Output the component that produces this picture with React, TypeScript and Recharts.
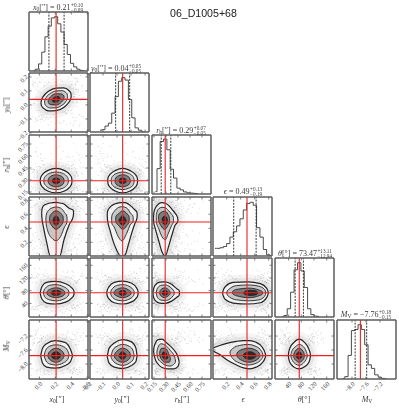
import React from 'react';
import { ComposedChart, Area, Line, Scatter, XAxis, YAxis, ReferenceLine } from 'recharts';

type Row = [number, number, number];

// axis setup, order is x0, y0, rh, eps, theta, Mv
const domains = [[-0.13, 0.61], [-0.193, 0.228], [0.125, 0.8625], [0.004, 0.847], [-3, 183], [-8.43, -6.74]];
const tickSets = [
  [0, 0.2, 0.4, 0.6],
  [-0.2, -0.1, 0, 0.1, 0.2],
  [0.15, 0.3, 0.45, 0.6, 0.75],
  [0.2, 0.4, 0.6, 0.8],
  [40, 80, 120, 160],
  [-8, -7.6, -7.2],
];
const tickDecimals = [1, 1, 2, 1, 0, 1];
const medians = [0.21, 0.04, 0.29, 0.49, 73.47, -7.76];
const lowerBounds = [0.12, -0.01, 0.24, 0.3, 60.53, -7.91];
const upperBounds = [0.31, 0.09, 0.36, 0.62, 86.58, -7.58];

// histograms: bin centre and height
const x0Bins = [-0.07, -0.03, 0.01, 0.05, 0.09, 0.13, 0.17, 0.21, 0.25, 0.29, 0.33, 0.37, 0.41, 0.45, 0.49, 0.53, 0.57];
const x0Hist = [1, 3, 12, 32, 58, 76, 90, 92, 80, 66, 45, 28, 13, 7, 3, 1, 0.5];
const y0Bins = [-0.121, -0.098, -0.074, -0.05, -0.026, -0.002, 0.021, 0.045, 0.069, 0.093, 0.117, 0.14, 0.164, 0.188];
const y0Hist = [3, 4, 10, 15, 32, 60, 86, 92, 88, 55, 24, 7, 3, 1];
const rhBins = [0.169, 0.206, 0.248, 0.29, 0.332, 0.373, 0.415, 0.457, 0.498, 0.54, 0.582, 0.624, 0.665, 0.7];
const rhHist = [4, 43, 89, 93, 75, 42, 27, 10, 7, 3.5, 2, 1.5, 1, 0.5];
const epsBins = [0.032, 0.08, 0.127, 0.175, 0.222, 0.27, 0.318, 0.365, 0.413, 0.46, 0.508, 0.556, 0.603, 0.65, 0.699, 0.746, 0.794, 0.84];
const epsHist = [13, 13, 14, 16, 21, 32, 41, 51, 63, 78, 89, 91, 86, 48, 32, 11, 2, 0.5];
const thetaBins = [21, 30, 41, 51.5, 62.7, 73.5, 84, 94.5, 105, 115, 126, 136];
const thetaHist = [1, 2.5, 14, 42, 80, 92, 78, 50, 14, 4, 1.5, 1];
const mvBins = [-8.255, -8.16, -8.065, -7.97, -7.874, -7.78, -7.684, -7.59, -7.49, -7.4, -7.3, -7.2, -7.11, -7.02];
const mvHist = [1, 4, 40, 82, 84, 92, 84, 58, 24, 18, 7, 3, 1, 0.5];
const histBins = [x0Bins, y0Bins, rhBins, epsBins, thetaBins, mvBins];
const histHeights = [x0Hist, y0Hist, rhHist, epsHist, thetaHist, mvHist];

// loose samples outside the contours
const x0Samples = [-0.08, 0.42, 0.03, 0.47, -0.02, 0.38, 0.51, 0.0, 0.44, -0.05, 0.12, 0.33, 0.49, 0.01, 0.41, -0.1, 0.25, 0.46, 0.06, 0.55, -0.03, 0.36, 0.18, 0.43, -0.06, 0.5, 0.02, 0.29, 0.4, -0.01, 0.15, 0.45, 0.04, 0.52, 0.09, 0.39, -0.04, 0.22, 0.48, 0.05, 0.35, -0.07, 0.42, 0.07, 0.31, 0.54, 0.0, 0.2, 0.44, 0.03, 0.37, -0.09, 0.27, 0.47, 0.08, 0.41, 0.14, 0.5, -0.02, 0.34, 0.01, 0.46, 0.1, 0.4, -0.05, 0.24, 0.43, 0.06, 0.53, 0.17, 0.38, -0.03, 0.3, 0.48, 0.02, 0.45, 0.11, 0.36, -0.08, 0.21];
const y0Samples = [0.15, -0.09, 0.18, 0.02, -0.11, 0.13, -0.07, 0.17, 0.06, -0.12, 0.16, -0.05, 0.11, -0.1, 0.2, 0.0, -0.13, 0.14, 0.08, -0.08, 0.19, -0.04, 0.12, -0.14, 0.16, 0.04, -0.1, 0.17, -0.06, 0.1, -0.12, 0.15, -0.02, 0.21, -0.09, 0.13, 0.05, -0.11, 0.18, -0.07, 0.12, 0.01, -0.15, 0.16, -0.05, 0.14, -0.08, 0.09, 0.19, -0.1, 0.03, 0.15, -0.13, 0.11, -0.03, 0.17, -0.09, 0.07, 0.13, -0.06, 0.2, -0.11, 0.1, -0.04, 0.16, -0.12, 0.06, 0.14, -0.08, 0.18, -0.01, -0.1, 0.12, 0.02, -0.07, 0.15, -0.14, 0.09, 0.17, -0.05];
const rhSamples = [0.44, 0.17, 0.5, 0.38, 0.19, 0.58, 0.47, 0.16, 0.41, 0.66, 0.2, 0.46, 0.36, 0.18, 0.53, 0.43, 0.72, 0.21, 0.49, 0.16, 0.39, 0.6, 0.45, 0.18, 0.42, 0.55, 0.2, 0.37, 0.48, 0.17, 0.63, 0.44, 0.22, 0.52, 0.4, 0.19, 0.46, 0.7, 0.35, 0.18, 0.5, 0.43, 0.21, 0.57, 0.38, 0.16, 0.47, 0.41, 0.2, 0.54, 0.45, 0.19, 0.36, 0.65, 0.42, 0.17, 0.49, 0.23, 0.4, 0.59, 0.18, 0.44, 0.37, 0.2, 0.51, 0.46, 0.76, 0.16, 0.39, 0.56, 0.22, 0.43, 0.48, 0.19, 0.62, 0.35, 0.17, 0.45, 0.41, 0.21];
const epsSamples = [0.1, 0.72, 0.2, 0.79, 0.05, 0.68, 0.3, 0.82, 0.14, 0.75, 0.02, 0.61, 0.25, 0.78, 0.08, 0.7, 0.33, 0.8, 0.17, 0.66, 0.04, 0.74, 0.28, 0.83, 0.12, 0.64, 0.22, 0.77, 0.07, 0.71, 0.36, 0.8, 0.15, 0.69, 0.03, 0.76, 0.26, 0.62, 0.1, 0.81, 0.19, 0.73, 0.31, 0.67, 0.06, 0.78, 0.24, 0.7, 0.13, 0.84, 0.39, 0.65, 0.09, 0.75, 0.21, 0.79, 0.02, 0.6, 0.29, 0.72, 0.16, 0.77, 0.05, 0.68, 0.34, 0.82, 0.11, 0.74, 0.23, 0.63, 0.08, 0.8, 0.27, 0.71, 0.18, 0.76, 0.04, 0.66, 0.32, 0.78];
const thetaSamples = [120, 25, 110, 34, 135, 18, 101, 40, 124, 29, 112, 14, 106, 37, 142, 22, 116, 31, 128, 43, 104, 20, 119, 36, 150, 27, 108, 12, 122, 33, 113, 24, 132, 39, 103, 17, 126, 30, 109, 44, 138, 21, 117, 35, 105, 26, 130, 15, 111, 38, 125, 28, 102, 19, 145, 32, 114, 41, 121, 23, 107, 10, 134, 34, 118, 26, 100, 42, 127, 16, 110, 30, 140, 37, 115, 22, 123, 45, 106, 29];
const mvSamples = [-7.3, -8.2, -7.25, -8.15, -7.4, -8.25, -7.2, -7.35, -8.18, -7.15, -8.3, -7.28, -7.45, -8.22, -7.1, -8.12, -7.38, -7.22, -8.28, -7.32, -8.16, -7.05, -7.42, -8.24, -7.27, -8.1, -7.18, -8.2, -7.36, -7.0, -8.14, -7.3, -8.32, -7.24, -7.44, -8.19, -7.12, -8.26, -7.34, -7.2, -8.13, -7.4, -8.22, -6.95, -7.29, -8.17, -7.37, -8.28, -7.16, -7.26, -8.11, -7.43, -8.21, -7.08, -7.33, -8.25, -7.21, -8.15, -7.39, -7.14, -8.3, -7.28, -8.18, -7.46, -7.03, -8.12, -7.31, -8.23, -7.19, -7.41, -8.16, -7.25, -8.27, -7.11, -7.35, -8.2, -7.23, -8.14, -7.47, -7.17];
const samples = [x0Samples, y0Samples, rhSamples, epsSamples, thetaSamples, mvSamples];
const samplePairings = [0, 17];

// contours, outer to inner: [x, lower y, upper y]
const contoursY0X0: Row[][] = [
  [[0.02, 0.015, 0.015], [0.026, -0.005, 0.035], [0.05, -0.023, 0.061], [0.115, -0.042, 0.098], [0.21, -0.04, 0.12], [0.305, -0.018, 0.122], [0.37, 0.019, 0.103], [0.394, 0.045, 0.085], [0.4, 0.065, 0.065]],
  [[0.065, 0.02, 0.02], [0.07, 0.005, 0.035], [0.087, -0.009, 0.055], [0.138, -0.022, 0.082], [0.21, -0.02, 0.1], [0.283, -0.002, 0.102], [0.333, 0.025, 0.089], [0.35, 0.045, 0.075], [0.355, 0.06, 0.06]],
  [[0.11, 0.026, 0.026], [0.113, 0.016, 0.036], [0.14, 0.002, 0.058], [0.21, 0, 0.08], [0.28, 0.022, 0.078], [0.307, 0.044, 0.064], [0.31, 0.054, 0.054]],
  [[0.16, 0.033, 0.033], [0.175, 0.021, 0.049], [0.21, 0.02, 0.06], [0.245, 0.031, 0.059], [0.26, 0.047, 0.047]],
];
const contoursRhX0: Row[][] = [
  [[0.01, 0.29, 0.29], [0.016, 0.25, 0.33], [0.04, 0.21, 0.37], [0.11, 0.16, 0.42], [0.21, 0.14, 0.445], [0.31, 0.16, 0.42], [0.38, 0.21, 0.37], [0.404, 0.25, 0.33], [0.41, 0.29, 0.29]],
  [[0.055, 0.29, 0.29], [0.06, 0.26, 0.32], [0.08, 0.23, 0.35], [0.13, 0.195, 0.385], [0.21, 0.18, 0.4], [0.29, 0.195, 0.385], [0.34, 0.23, 0.35], [0.36, 0.26, 0.32], [0.365, 0.29, 0.29]],
  [[0.11, 0.29, 0.29], [0.113, 0.27, 0.31], [0.14, 0.235, 0.345], [0.21, 0.215, 0.365], [0.28, 0.235, 0.345], [0.307, 0.27, 0.31], [0.31, 0.29, 0.29]],
  [[0.16, 0.29, 0.29], [0.175, 0.265, 0.315], [0.21, 0.255, 0.325], [0.245, 0.265, 0.315], [0.26, 0.29, 0.29]],
];
const contoursRhY0: Row[][] = [
  [[-0.067, 0.29, 0.29], [-0.064, 0.25, 0.33], [-0.05, 0.21, 0.37], [-0.01, 0.16, 0.42], [0.04, 0.14, 0.445], [0.09, 0.16, 0.42], [0.13, 0.21, 0.37], [0.144, 0.25, 0.33], [0.147, 0.29, 0.29]],
  [[-0.042, 0.29, 0.29], [-0.04, 0.26, 0.32], [-0.03, 0.23, 0.35], [0, 0.195, 0.385], [0.04, 0.18, 0.4], [0.08, 0.195, 0.385], [0.11, 0.23, 0.35], [0.12, 0.26, 0.32], [0.122, 0.29, 0.29]],
  [[-0.015, 0.29, 0.29], [-0.013, 0.27, 0.31], [0.002, 0.235, 0.345], [0.04, 0.215, 0.365], [0.078, 0.235, 0.345], [0.093, 0.27, 0.31], [0.095, 0.29, 0.29]],
  [[0.013, 0.29, 0.29], [0.021, 0.265, 0.315], [0.04, 0.255, 0.325], [0.059, 0.265, 0.315], [0.067, 0.29, 0.29]],
];
const contoursEpsX0: Row[][] = [
  [[0.029, 0.614, 0.614], [0.032, 0.55, 0.67], [0.05, 0.423, 0.719], [0.094, 0.185, 0.747], [0.136, 0.004, 0.761], [0.21, 0.002, 0.771], [0.256, 0.004, 0.761], [0.308, 0.233, 0.747], [0.373, 0.447, 0.685], [0.425, 0.57, 0.66], [0.429, 0.62, 0.62]],
  [[0.081, 0.53, 0.53], [0.085, 0.47, 0.58], [0.102, 0.376, 0.637], [0.158, 0.257, 0.69], [0.21, 0.223, 0.704], [0.265, 0.28, 0.69], [0.317, 0.423, 0.623], [0.344, 0.48, 0.575], [0.348, 0.53, 0.53]],
  [[0.128, 0.53, 0.53], [0.131, 0.49, 0.57], [0.155, 0.44, 0.61], [0.21, 0.385, 0.65], [0.27, 0.44, 0.61], [0.297, 0.49, 0.57], [0.3, 0.53, 0.53]],
  [[0.17, 0.51, 0.51], [0.185, 0.465, 0.555], [0.21, 0.447, 0.578], [0.235, 0.465, 0.555], [0.25, 0.51, 0.51]],
];
const contoursEpsY0: Row[][] = [
  [[-0.07, 0.59, 0.59], [-0.068, 0.52, 0.64], [-0.051, 0.376, 0.7], [-0.027, 0.209, 0.738], [-0.003, 0.09, 0.757], [0.026, 0.004, 0.766], [0.04, 0.004, 0.766], [0.057, 0.019, 0.766], [0.08, 0.161, 0.747], [0.104, 0.328, 0.709], [0.128, 0.471, 0.661], [0.142, 0.54, 0.63], [0.144, 0.59, 0.59]],
  [[-0.039, 0.53, 0.53], [-0.037, 0.47, 0.58], [-0.022, 0.423, 0.637], [0.009, 0.28, 0.695], [0.035, 0.219, 0.709], [0.069, 0.328, 0.69], [0.097, 0.461, 0.614], [0.114, 0.49, 0.57], [0.116, 0.53, 0.53]],
  [[-0.01, 0.53, 0.53], [-0.008, 0.49, 0.57], [0.012, 0.44, 0.61], [0.04, 0.385, 0.65], [0.07, 0.44, 0.61], [0.085, 0.49, 0.57], [0.087, 0.53, 0.53]],
  [[0.012, 0.51, 0.51], [0.024, 0.465, 0.555], [0.04, 0.447, 0.578], [0.055, 0.465, 0.555], [0.066, 0.51, 0.51]],
];
const contoursEpsRh: Row[][] = [
  [[0.144, 0.542, 0.542], [0.147, 0.48, 0.61], [0.165, 0.4, 0.685], [0.206, 0.233, 0.747], [0.249, 0.066, 0.766], [0.29, 0.004, 0.757], [0.332, 0.138, 0.728], [0.374, 0.304, 0.671], [0.415, 0.447, 0.614], [0.446, 0.49, 0.55], [0.449, 0.519, 0.519]],
  [[0.178, 0.55, 0.55], [0.18, 0.49, 0.6], [0.21, 0.39, 0.68], [0.25, 0.28, 0.7], [0.29, 0.235, 0.695], [0.33, 0.33, 0.655], [0.37, 0.44, 0.6], [0.392, 0.49, 0.56], [0.394, 0.53, 0.53]],
  [[0.206, 0.55, 0.55], [0.209, 0.51, 0.59], [0.235, 0.44, 0.625], [0.285, 0.385, 0.645], [0.325, 0.44, 0.6], [0.343, 0.48, 0.54], [0.345, 0.51, 0.51]],
  [[0.25, 0.53, 0.53], [0.265, 0.47, 0.565], [0.29, 0.447, 0.575], [0.31, 0.47, 0.55], [0.32, 0.51, 0.51]],
];
const contoursThetaX0: Row[][] = [
  [[0.01, 72, 72], [0.017, 64, 81], [0.035, 52, 94], [0.09, 41, 106], [0.2, 38, 109], [0.33, 44, 102], [0.41, 58, 88], [0.43, 65, 81], [0.437, 73, 73]],
  [[0.05, 73, 73], [0.056, 67, 79], [0.075, 58, 88], [0.13, 51, 97], [0.21, 48, 99], [0.3, 53, 93], [0.355, 62, 84], [0.367, 67, 79], [0.373, 73, 73]],
  [[0.094, 73, 73], [0.098, 69, 77], [0.13, 63, 84], [0.21, 58, 89], [0.29, 63, 83], [0.316, 69, 77], [0.32, 73, 73]],
  [[0.145, 73, 73], [0.165, 67, 79], [0.21, 65, 81], [0.255, 68, 79], [0.274, 73, 73]],
];
const contoursThetaY0: Row[][] = [
  [[-0.074, 72, 72], [-0.07, 64, 81], [-0.058, 54, 92], [-0.02, 42, 106], [0.04, 38, 110], [0.1, 44, 104], [0.14, 58, 88], [0.148, 65, 81], [0.151, 73, 73]],
  [[-0.046, 73, 73], [-0.043, 67, 79], [-0.03, 58, 88], [0.005, 50, 97], [0.04, 48, 99], [0.085, 53, 94], [0.113, 62, 84], [0.12, 67, 79], [0.123, 73, 73]],
  [[-0.022, 73, 73], [-0.02, 69, 77], [0, 63, 84], [0.04, 58, 89], [0.08, 63, 83], [0.098, 69, 77], [0.1, 73, 73]],
  [[0.012, 73, 73], [0.022, 67, 79], [0.04, 65, 81], [0.058, 68, 79], [0.07, 73, 73]],
];
const contoursThetaRh: Row[][] = [
  [[0.136, 72, 72], [0.141, 64, 81], [0.16, 50, 96], [0.22, 41, 107], [0.29, 40, 108], [0.37, 47, 100], [0.44, 60, 85], [0.463, 65, 81], [0.469, 73, 73]],
  [[0.178, 73, 73], [0.182, 67, 79], [0.2, 56, 90], [0.24, 50, 97], [0.29, 49, 98], [0.35, 54, 92], [0.39, 64, 82], [0.399, 67, 79], [0.403, 73, 73]],
  [[0.22, 73, 73], [0.223, 69, 77], [0.245, 62, 85], [0.285, 58, 89], [0.33, 64, 83], [0.349, 69, 77], [0.352, 73, 73]],
  [[0.25, 73, 73], [0.265, 67, 79], [0.285, 65, 81], [0.31, 67, 79], [0.324, 73, 73]],
];
const contoursThetaEps: Row[][] = [
  [[0.14, 72, 72], [0.15, 64, 81], [0.18, 52, 93], [0.29, 41, 106], [0.5, 38, 108], [0.68, 42, 102], [0.77, 58, 88], [0.785, 65, 81], [0.795, 73, 73]],
  [[0.2, 73, 73], [0.208, 67, 79], [0.24, 60, 86], [0.34, 51, 96], [0.52, 48, 98], [0.66, 51, 94], [0.74, 62, 84], [0.752, 67, 79], [0.76, 73, 73]],
  [[0.28, 74, 74], [0.286, 70, 78], [0.34, 64, 84], [0.52, 58, 88], [0.66, 64, 82], [0.708, 69, 77], [0.714, 73, 73]],
  [[0.438, 73, 73], [0.47, 67, 79], [0.54, 65, 81], [0.62, 67, 79], [0.65, 73, 73]],
];
const contoursMvX0: Row[][] = [
  [[0.016, -7.76, -7.76], [0.022, -7.82, -7.7], [0.04, -7.98, -7.55], [0.09, -8.09, -7.42], [0.2, -8.12, -7.33], [0.32, -8.05, -7.38], [0.39, -7.93, -7.58], [0.41, -7.81, -7.71], [0.416, -7.76, -7.76]],
  [[0.06, -7.76, -7.76], [0.065, -7.8, -7.71], [0.08, -7.9, -7.6], [0.13, -8, -7.49], [0.21, -8.03, -7.45], [0.3, -7.97, -7.5], [0.355, -7.87, -7.62], [0.368, -7.79, -7.7], [0.373, -7.75, -7.75]],
  [[0.105, -7.76, -7.76], [0.109, -7.79, -7.73], [0.14, -7.89, -7.62], [0.21, -7.95, -7.55], [0.28, -7.88, -7.62], [0.308, -7.78, -7.72], [0.312, -7.75, -7.75]],
  [[0.15, -7.76, -7.76], [0.165, -7.83, -7.69], [0.21, -7.865, -7.65], [0.255, -7.82, -7.7], [0.27, -7.76, -7.76]],
];
const contoursMvY0: Row[][] = [
  [[-0.07, -7.78, -7.78], [-0.067, -7.84, -7.72], [-0.058, -7.97, -7.56], [-0.02, -8.09, -7.4], [0.04, -8.13, -7.3], [0.1, -8.05, -7.36], [0.135, -7.93, -7.55], [0.141, -7.81, -7.71], [0.144, -7.76, -7.76]],
  [[-0.044, -7.78, -7.78], [-0.041, -7.82, -7.74], [-0.03, -7.9, -7.6], [0, -8, -7.49], [0.04, -8.04, -7.44], [0.09, -7.97, -7.5], [0.115, -7.87, -7.62], [0.12, -7.8, -7.72], [0.123, -7.76, -7.76]],
  [[-0.02, -7.77, -7.77], [-0.018, -7.8, -7.74], [0, -7.89, -7.63], [0.04, -7.95, -7.55], [0.08, -7.88, -7.62], [0.095, -7.79, -7.73], [0.097, -7.76, -7.76]],
  [[0.012, -7.76, -7.76], [0.022, -7.83, -7.69], [0.04, -7.865, -7.65], [0.058, -7.82, -7.7], [0.069, -7.76, -7.76]],
];
const contoursMvRh: Row[][] = [
  [[0.144, -7.62, -7.62], [0.148, -7.69, -7.55], [0.165, -7.86, -7.42], [0.2, -8, -7.3], [0.25, -8.1, -7.29], [0.32, -8.14, -7.42], [0.4, -8.14, -7.6], [0.45, -8.07, -7.8], [0.461, -8, -7.9], [0.465, -7.95, -7.95]],
  [[0.186, -7.68, -7.68], [0.189, -7.74, -7.62], [0.2, -7.85, -7.52], [0.24, -7.95, -7.42], [0.29, -8.03, -7.46], [0.35, -8.06, -7.6], [0.41, -7.98, -7.82], [0.417, -7.95, -7.88], [0.42, -7.92, -7.92]],
  [[0.22, -7.7, -7.7], [0.223, -7.75, -7.65], [0.245, -7.87, -7.55], [0.29, -7.95, -7.55], [0.34, -7.95, -7.74], [0.352, -7.89, -7.82], [0.355, -7.86, -7.86]],
  [[0.25, -7.74, -7.74], [0.265, -7.83, -7.66], [0.29, -7.86, -7.66], [0.315, -7.85, -7.76], [0.325, -7.82, -7.82]],
];
const contoursMvEps: Row[][] = [
  [[0.004, -7.63, -7.54], [0.1, -7.73, -7.47], [0.2, -7.88, -7.41], [0.34, -8.03, -7.35], [0.44, -8.11, -7.33], [0.53, -8.14, -7.33], [0.62, -8.09, -7.38], [0.7, -7.98, -7.5], [0.75, -7.82, -7.7], [0.757, -7.76, -7.76]],
  [[0.247, -7.68, -7.68], [0.253, -7.73, -7.63], [0.29, -7.85, -7.55], [0.38, -7.97, -7.47], [0.5, -8.03, -7.44], [0.62, -7.98, -7.5], [0.7, -7.85, -7.64], [0.715, -7.8, -7.72], [0.72, -7.76, -7.76]],
  [[0.342, -7.73, -7.73], [0.347, -7.77, -7.69], [0.4, -7.88, -7.6], [0.52, -7.95, -7.55], [0.63, -7.88, -7.62], [0.671, -7.79, -7.73], [0.676, -7.76, -7.76]],
  [[0.43, -7.76, -7.76], [0.46, -7.83, -7.69], [0.53, -7.865, -7.65], [0.6, -7.82, -7.7], [0.63, -7.76, -7.76]],
];
const contoursMvTheta: Row[][] = [
  [[39, -7.75, -7.75], [39.8, -7.82, -7.69], [44, -7.96, -7.54], [57, -8.09, -7.38], [73, -8.14, -7.29], [90, -8.08, -7.38], [104, -7.95, -7.58], [108, -7.82, -7.7], [109, -7.76, -7.76]],
  [[47, -7.76, -7.76], [47.7, -7.8, -7.71], [52, -7.9, -7.6], [62, -8, -7.5], [73, -8.04, -7.44], [86, -7.98, -7.5], [95, -7.87, -7.63], [98.2, -7.8, -7.72], [99, -7.76, -7.76]],
  [[55.6, -7.76, -7.76], [56.1, -7.79, -7.73], [61, -7.88, -7.63], [73, -7.95, -7.55], [85, -7.88, -7.63], [89.4, -7.79, -7.73], [90, -7.76, -7.76]],
  [[63, -7.76, -7.76], [67, -7.83, -7.69], [73, -7.865, -7.65], [79, -7.83, -7.69], [83, -7.76, -7.76]],
];
// indexed by row then column
const contourGrid: Row[][][][] = [
  [],
  [contoursY0X0],
  [contoursRhX0, contoursRhY0],
  [contoursEpsX0, contoursEpsY0, contoursEpsRh],
  [contoursThetaX0, contoursThetaY0, contoursThetaRh, contoursThetaEps],
  [contoursMvX0, contoursMvY0, contoursMvRh, contoursMvEps, contoursMvTheta],
];

const colLeft = [29, 90, 152, 213, 275, 337];
const rowTop = [12, 73, 135, 197, 258, 320];
const SIZE = 59;
const FRAME = '#5c5c5c';
const INK = '#3a3a3a';
const SERIF = '"Liberation Serif", serif';
const levelFills = ['#f3f3f3', '#c8c8c8', '#7c7c7c', '#2a2a2a'];

const formatTick = (value: number, decimals: number) => value.toFixed(decimals).replace('-', '\u2212');

const makeTick = (side: 'bottom' | 'top' | 'left' | 'right', decimals: number | null) => (p: any) => {
  const { x, y, payload } = p;
  const mark =
    side === 'bottom' ? { x1: x, x2: x, y1: y, y2: y - 2.5 }
    : side === 'top' ? { x1: x, x2: x, y1: y, y2: y + 2.5 }
    : side === 'left' ? { x1: x, x2: x + 2.5, y1: y, y2: y }
    : { x1: x, x2: x - 2.5, y1: y, y2: y };
  const lx = side === 'bottom' ? x + 2 : x - 2;
  const ly = side === 'bottom' ? y + 4 : y - 1;
  return (
    <g>
      <line {...mark} stroke={FRAME} strokeWidth={0.8} />
      {decimals !== null && (
        <text
          x={lx}
          y={ly}
          dy="0.3em"
          textAnchor="end"
          fontSize={6.4}
          fontFamily={SERIF}
          fill={INK}
          transform={`rotate(-45 ${lx} ${ly})`}
        >
          {formatTick(payload.value, decimals)}
        </text>
      )}
    </g>
  );
};

const Panel = ({ col, row }: { col: number; row: number }) => {
  const isHist = row === col;
  // one pixel of each side goes to the axis strip
  const left = col === 0 ? 29 : 1;
  const bottom = row === 5 ? 24 : 1;
  const xDomain = domains[col] as [number, number];
  const yDomain = (isHist ? [0, 100] : domains[row]) as [number, number];
  const yTicks = isHist ? [] : tickSets[row];
  const axisLine = { stroke: FRAME, strokeWidth: 1.5 };
  const levels = isHist ? [] : contourGrid[row][col];
  const points = isHist
    ? []
    : samplePairings.flatMap((k) => samples[col].map((v, i) => ({ x: v, y: samples[row][(i + k) % samples[row].length] })));
  const histData = histBins[col].map((v, i) => ({ x: v, y: histHeights[col][i] }));
  return (
    <div style={{ position: 'absolute', left: colLeft[col] - left, top: rowTop[row] - 1 }}>
      <ComposedChart
        width={SIZE + left + 1}
        height={SIZE + bottom + 1}
        margin={{ top: 0, right: 0, bottom: bottom - 1, left: left - 1 }}
      >
        <XAxis
          dataKey="x"
          type="number"
          domain={xDomain}
          allowDataOverflow
          ticks={tickSets[col]}
          interval={0}
          height={1}
          tickSize={0}
          tickMargin={0}
          tickLine={false}
          axisLine={axisLine}
          tick={makeTick('bottom', row === 5 ? tickDecimals[col] : null)}
        />
        <XAxis
          xAxisId="top"
          orientation="top"
          dataKey="x"
          type="number"
          domain={xDomain}
          allowDataOverflow
          ticks={tickSets[col]}
          interval={0}
          height={1}
          tickSize={0}
          tickMargin={0}
          tickLine={false}
          axisLine={axisLine}
          tick={makeTick('top', null)}
        />
        <YAxis
          dataKey="y"
          type="number"
          domain={yDomain}
          allowDataOverflow
          ticks={yTicks}
          interval={0}
          width={1}
          tickSize={0}
          tickMargin={0}
          tickLine={false}
          axisLine={axisLine}
          tick={makeTick('left', col === 0 && !isHist ? tickDecimals[row] : null)}
        />
        <YAxis
          yAxisId="right"
          orientation="right"
          dataKey="y"
          type="number"
          domain={yDomain}
          allowDataOverflow
          ticks={yTicks}
          interval={0}
          width={1}
          tickSize={0}
          tickMargin={0}
          tickLine={false}
          axisLine={axisLine}
          tick={makeTick('right', null)}
        />
        {!isHist && (
          <Scatter
            data={points}
            isAnimationActive={false}
            shape={(s: any) => <circle cx={s.cx} cy={s.cy} r={0.5} fill="#777" fillOpacity={0.35} />}
          />
        )}
        {levels.length > 0 && [15, 8].map((w, i) => (
          <Area
            key={`halo-${w}`}
            data={levels[0].map((r) => ({ x: r[0], y: [r[1], r[2]] }))}
            dataKey="y"
            type="monotone"
            stroke="#aaa"
            strokeOpacity={i === 0 ? 0.12 : 0.2}
            strokeWidth={w}
            fill="none"
            dot={false}
            activeDot={false}
            isAnimationActive={false}
          />
        ))}
        {levels.map((level, i) => (
          <Area
            key={i}
            data={level.map((r) => ({ x: r[0], y: [r[1], r[2]] }))}
            dataKey="y"
            type="monotone"
            stroke="#222"
            strokeWidth={i === 0 ? 1.2 : 0.9}
            fill={levelFills[i]}
            fillOpacity={1}
            dot={false}
            activeDot={false}
            isAnimationActive={false}
          />
        ))}
        {isHist && (
          <Line
            data={histData}
            dataKey="y"
            type="step"
            stroke="#4a4a4a"
            strokeWidth={1}
            dot={false}
            activeDot={false}
            isAnimationActive={false}
          />
        )}
        {isHist && <ReferenceLine x={lowerBounds[col]} stroke="#222" strokeWidth={0.9} strokeDasharray="2 1.2" />}
        {isHist && <ReferenceLine x={upperBounds[col]} stroke="#222" strokeWidth={0.9} strokeDasharray="2 1.2" />}
        <ReferenceLine x={medians[col]} stroke="#f02020" strokeWidth={1.1} />
        {!isHist && <ReferenceLine y={medians[row]} stroke="#f02020" strokeWidth={1.1} />}
      </ComposedChart>
    </div>
  );
};

const Sub = ({ children }: { children: React.ReactNode }) => (
  <span style={{ fontSize: '70%', position: 'relative', top: '0.25em' }}>{children}</span>
);

const Stack = ({ up, down }: { up: string; down: string }) => (
  <span style={{ display: 'inline-block', verticalAlign: 'middle', fontSize: 5.2, lineHeight: '5px', marginLeft: 0.5 }}>
    {up}
    <br />
    {down}
  </span>
);

const labelStyle: React.CSSProperties = {
  position: 'absolute',
  fontFamily: SERIF,
  color: INK,
  fontSize: 8,
  lineHeight: '10px',
  whiteSpace: 'nowrap',
  willChange: 'transform',
};

const names: React.ReactNode[] = [
  <><i>x</i><Sub>0</Sub>[″]</>,
  <><i>y</i><Sub>0</Sub>[″]</>,
  <><i>r</i><Sub>h</Sub>[″]</>,
  <i>ϵ</i>,
  <><i>θ</i>[°]</>,
  <><i>M</i><Sub>V</Sub></>,
];
const titleValues = ['0.21', '0.04', '0.29', '0.49', '73.47', '\u22127.76'];
const titleUps = ['+0.10', '+0.05', '+0.07', '+0.13', '+13.11', '+0.18'];
const titleDowns = ['\u22120.09', '\u22120.05', '\u22120.05', '\u22120.19', '\u221212.94', '\u22120.15'];
const titleCentre = [58, 116, 181, 243, 305, 366];
const titleY = [3, 64, 126, 187, 249, 310];
const xLabelCentre = [57, 122, 182, 243, 304, 367];
const yLabelCentre = [0, 105, 165, 227, 293, 346];

export default function App() {
  const panels: React.ReactNode[] = [];
  for (let row = 0; row < 6; row++) {
    for (let col = 0; col <= row; col++) {
      panels.push(<Panel key={`${row}-${col}`} col={col} row={row} />);
    }
  }
  return (
    <div style={{ position: 'absolute', left: 0, top: 0, width: 399, height: 408, background: '#fff', overflow: 'hidden' }}>
      <style>{'.recharts-surface{overflow:visible}.recharts-wrapper{overflow:visible}'}</style>
      {panels}
      <div style={{ position: 'absolute', left: 170, top: 7, fontFamily: '"Liberation Sans", sans-serif', fontSize: 10.6, lineHeight: '12px', color: '#222', willChange: 'transform' }}>
        06_D1005+68
      </div>
      {names.map((name, i) => (
        <div key={`title-${i}`} style={{ ...labelStyle, left: titleCentre[i], top: titleY[i], transform: 'translateX(-50%)' }}>
          {name} = {titleValues[i]}
          <Stack up={titleUps[i]} down={titleDowns[i]} />
        </div>
      ))}
      {names.map((name, i) => (
        <div key={`xlabel-${i}`} style={{ ...labelStyle, left: xLabelCentre[i], top: 395, transform: 'translateX(-50%)' }}>
          {name}
        </div>
      ))}
      {names.map((name, i) =>
        i === 0 ? null : (
          <div key={`ylabel-${i}`} style={{ ...labelStyle, left: 7, top: yLabelCentre[i], transform: 'translate(-50%, -50%) rotate(-90deg)' }}>
            {name}
          </div>
        ),
      )}
    </div>
  );
}
